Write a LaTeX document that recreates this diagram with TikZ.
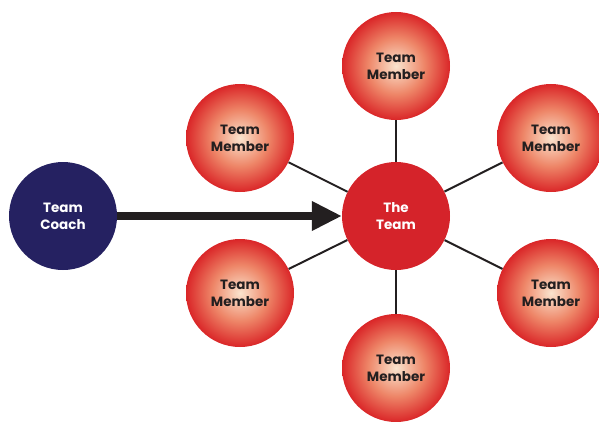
\documentclass[tikz,border=0pt]{standalone}
\usepackage{fontspec}
\setmainfont{Poppins}
\usetikzlibrary{arrows.meta}

\definecolor{coachblue}{RGB}{37,33,97}
\definecolor{teamred}{RGB}{213,35,42}
\definecolor{ballin}{RGB}{250,228,206}
\definecolor{ballmid}{RGB}{238,134,104}
\definecolor{ballout}{RGB}{218,38,40}
\definecolor{inkblack}{RGB}{35,31,32}

\pgfdeclareradialshading{memberball}{\pgfpoint{0bp}{0bp}}{%
  color(0bp)=(ballin); color(13bp)=(ballmid); color(25bp)=(ballout); color(50bp)=(ballout)}

\tikzset{
  ball/.style={circle, minimum size=3.24cm, inner sep=0pt, align=center,
    font=\bfseries\fontsize{11.5}{14.5}\selectfont},
  member/.style={ball, shading=memberball, text=inkblack},
  hub/.style={ball, fill=teamred, text=white},
  coachball/.style={ball, fill=coachblue, text=white},
  spoke/.style={draw=inkblack, line width=1.7pt},
  push/.style={draw=inkblack, line width=6pt,
    -{Triangle[length=0.9cm,width=0.84cm]}}
}

\begin{document}
\begin{tikzpicture}[x=0.03cm, y=-0.03cm]
  \useasboundingbox (0,0) rectangle (599,421);

  % nodes
  \node[coachball] (coach) at (63,216) {Team\\Coach};
  \node[hub] (team) at (396,216) {The\\Team};
  \node[member] (mtop) at (396,66) {Team\\Member};
  \node[member] (mupleft) at (240,138) {Team\\Member};
  \node[member] (mupright) at (551,138) {Team\\Member};
  \node[member] (mlowleft) at (240,293) {Team\\Member};
  \node[member] (mlowright) at (551,293) {Team\\Member};
  \node[member] (mbottom) at (396,368) {Team\\Member};

  % spokes
  \draw[spoke] (team) -- (mtop);
  \draw[spoke] (team) -- (mupleft);
  \draw[spoke] (team) -- (mupright);
  \draw[spoke] (team) -- (mlowleft);
  \draw[spoke] (team) -- (mlowright);
  \draw[spoke] (team) -- (mbottom);

  % arrow
  \draw[push] (coach) -- (team);

\end{tikzpicture}
\end{document}
